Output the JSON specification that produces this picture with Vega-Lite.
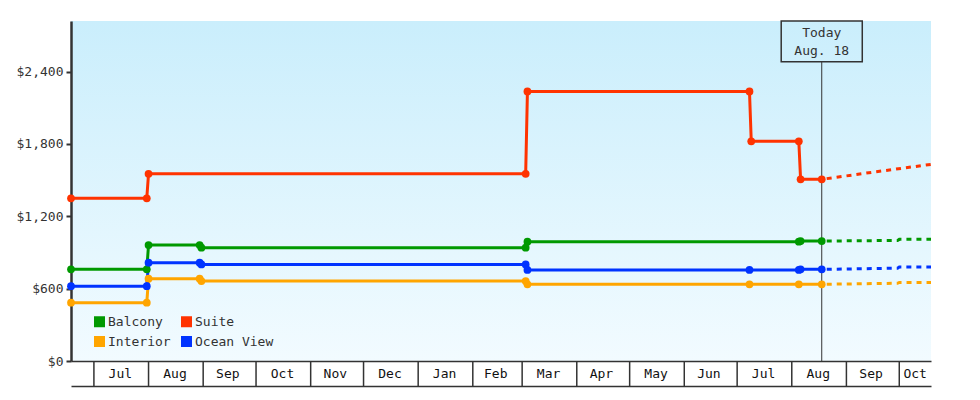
{
  "$schema": "https://vega.github.io/schema/vega-lite/v6.json",
  "description": "Cruise cabin price history by room type, with projection after today.",
  "background": "white",
  "padding": {"left": 0, "top": 20, "right": 49, "bottom": 15},
  "datasets": {
    "prices": [
      {"room": "Balcony", "date": "2022-06-18", "price": 760, "phase": "past"},
      {"room": "Balcony", "date": "2022-07-31", "price": 760, "phase": "past"},
      {"room": "Balcony", "date": "2022-08-01", "price": 962, "phase": "past"},
      {"room": "Balcony", "date": "2022-08-30", "price": 962, "phase": "past"},
      {"room": "Balcony", "date": "2022-08-31", "price": 940, "phase": "past"},
      {"room": "Balcony", "date": "2023-03-03", "price": 940, "phase": "past"},
      {"room": "Balcony", "date": "2023-03-04", "price": 990, "phase": "past"},
      {"room": "Balcony", "date": "2023-08-05", "price": 990, "phase": "past"},
      {"room": "Balcony", "date": "2023-08-06", "price": 995, "phase": "past"},
      {"room": "Balcony", "date": "2023-08-18", "price": 995, "phase": "past"},
      {"room": "Balcony", "date": "2023-08-18", "price": 995, "phase": "projected"},
      {"room": "Balcony", "date": "2023-09-30", "price": 1000, "phase": "projected"},
      {"room": "Balcony", "date": "2023-10-01", "price": 1009, "phase": "projected"},
      {"room": "Balcony", "date": "2023-10-19", "price": 1009, "phase": "projected"},

      {"room": "Suite", "date": "2022-06-18", "price": 1349, "phase": "past"},
      {"room": "Suite", "date": "2022-07-31", "price": 1349, "phase": "past"},
      {"room": "Suite", "date": "2022-08-01", "price": 1553, "phase": "past"},
      {"room": "Suite", "date": "2023-03-03", "price": 1553, "phase": "past"},
      {"room": "Suite", "date": "2023-03-04", "price": 2236, "phase": "past"},
      {"room": "Suite", "date": "2023-07-08", "price": 2236, "phase": "past"},
      {"room": "Suite", "date": "2023-07-09", "price": 1822, "phase": "past"},
      {"room": "Suite", "date": "2023-08-05", "price": 1822, "phase": "past"},
      {"room": "Suite", "date": "2023-08-06", "price": 1507, "phase": "past"},
      {"room": "Suite", "date": "2023-08-18", "price": 1507, "phase": "past"},
      {"room": "Suite", "date": "2023-08-18", "price": 1507, "phase": "projected"},
      {"room": "Suite", "date": "2023-09-18", "price": 1570, "phase": "projected"},
      {"room": "Suite", "date": "2023-10-19", "price": 1631, "phase": "projected"},

      {"room": "Interior", "date": "2022-06-18", "price": 484, "phase": "past"},
      {"room": "Interior", "date": "2022-07-31", "price": 484, "phase": "past"},
      {"room": "Interior", "date": "2022-08-01", "price": 683, "phase": "past"},
      {"room": "Interior", "date": "2022-08-30", "price": 683, "phase": "past"},
      {"room": "Interior", "date": "2022-08-31", "price": 663, "phase": "past"},
      {"room": "Interior", "date": "2023-03-03", "price": 663, "phase": "past"},
      {"room": "Interior", "date": "2023-03-04", "price": 636, "phase": "past"},
      {"room": "Interior", "date": "2023-07-08", "price": 636, "phase": "past"},
      {"room": "Interior", "date": "2023-08-05", "price": 636, "phase": "past"},
      {"room": "Interior", "date": "2023-08-18", "price": 636, "phase": "past"},
      {"room": "Interior", "date": "2023-08-18", "price": 636, "phase": "projected"},
      {"room": "Interior", "date": "2023-09-30", "price": 645, "phase": "projected"},
      {"room": "Interior", "date": "2023-10-01", "price": 652, "phase": "projected"},
      {"room": "Interior", "date": "2023-10-19", "price": 652, "phase": "projected"},

      {"room": "Ocean View", "date": "2022-06-18", "price": 621, "phase": "past"},
      {"room": "Ocean View", "date": "2022-07-31", "price": 621, "phase": "past"},
      {"room": "Ocean View", "date": "2022-08-01", "price": 815, "phase": "past"},
      {"room": "Ocean View", "date": "2022-08-30", "price": 815, "phase": "past"},
      {"room": "Ocean View", "date": "2022-08-31", "price": 801, "phase": "past"},
      {"room": "Ocean View", "date": "2023-03-03", "price": 801, "phase": "past"},
      {"room": "Ocean View", "date": "2023-03-04", "price": 755, "phase": "past"},
      {"room": "Ocean View", "date": "2023-07-08", "price": 755, "phase": "past"},
      {"room": "Ocean View", "date": "2023-08-05", "price": 755, "phase": "past"},
      {"room": "Ocean View", "date": "2023-08-06", "price": 760, "phase": "past"},
      {"room": "Ocean View", "date": "2023-08-18", "price": 760, "phase": "past"},
      {"room": "Ocean View", "date": "2023-08-18", "price": 760, "phase": "projected"},
      {"room": "Ocean View", "date": "2023-09-30", "price": 770, "phase": "projected"},
      {"room": "Ocean View", "date": "2023-10-01", "price": 780, "phase": "projected"},
      {"room": "Ocean View", "date": "2023-10-19", "price": 780, "phase": "projected"}
    ],
    "months": [
      {"label": "Jul", "start": "2022-07-01", "mid": "2022-07-16"},
      {"label": "Aug", "start": "2022-08-01", "mid": "2022-08-16"},
      {"label": "Sep", "start": "2022-09-01", "mid": "2022-09-15"},
      {"label": "Oct", "start": "2022-10-01", "mid": "2022-10-16"},
      {"label": "Nov", "start": "2022-11-01", "mid": "2022-11-15"},
      {"label": "Dec", "start": "2022-12-01", "mid": "2022-12-16"},
      {"label": "Jan", "start": "2023-01-01", "mid": "2023-01-16"},
      {"label": "Feb", "start": "2023-02-01", "mid": "2023-02-14"},
      {"label": "Mar", "start": "2023-03-01", "mid": "2023-03-16"},
      {"label": "Apr", "start": "2023-04-01", "mid": "2023-04-15"},
      {"label": "May", "start": "2023-05-01", "mid": "2023-05-16"},
      {"label": "Jun", "start": "2023-06-01", "mid": "2023-06-15"},
      {"label": "Jul", "start": "2023-07-01", "mid": "2023-07-16"},
      {"label": "Aug", "start": "2023-08-01", "mid": "2023-08-16"},
      {"label": "Sep", "start": "2023-09-01", "mid": "2023-09-15"},
      {"label": "Oct", "start": "2023-10-01", "mid": "2023-10-10"}
    ]
  },
  "spacing": 0,
  "bounds": "flush",
  "vconcat": [
    {
      "width": 860,
      "height": 340,
      "view": {
        "stroke": null,
        "fill": {
          "gradient": "linear",
          "x1": 0, "y1": 0, "x2": 0, "y2": 1,
          "stops": [
            {"offset": 0, "color": "#caeefc"},
            {"offset": 1, "color": "#f2fbff"}
          ]
        }
      },
      "layer": [
        {
          "data": {"values": [{"day": "2023-08-18", "low": 0, "high": 2482}]},
          "mark": {"type": "rule", "color": "#333", "strokeWidth": 1},
          "encoding": {
            "x": {
              "field": "day",
              "type": "temporal",
              "scale": {
                "domain": [
                  {"year": 2022, "month": 6, "date": 18, "utc": true},
                  {"year": 2023, "month": 10, "date": 19, "utc": true}
                ]
              },
              "axis": {"labels": false, "ticks": false, "grid": false, "title": null, "domainColor": "#333", "domainWidth": 1.5}
            },
            "y": {
              "field": "low",
              "type": "quantitative",
              "scale": {"domain": [0, 2820], "nice": false},
              "axis": {
                "values": [0, 600, 1200, 1800, 2400],
                "format": "$,d",
                "title": null,
                "grid": false,
                "domainColor": "#333",
                "domainWidth": 2.5,
                "tickColor": "#333",
                "tickWidth": 2,
                "tickSize": 5,
                "labelPadding": 3,
                "minExtent": 71,
                "maxExtent": 71
              }
            },
            "y2": {"field": "high"}
          }
        },
        {
          "data": {"name": "prices"},
          "transform": [{"filter": "datum.phase == 'past'"}],
          "mark": {"type": "line", "strokeWidth": 3, "clip": false},
          "encoding": {
            "x": {"field": "date", "type": "temporal"},
            "y": {"field": "price", "type": "quantitative"},
            "color": {"field": "room", "type": "nominal"}
          }
        },
        {
          "data": {"name": "prices"},
          "transform": [{"filter": "datum.phase == 'projected'"}],
          "mark": {"type": "line", "strokeWidth": 3, "strokeDash": [5, 5], "strokeDashOffset": -5},
          "encoding": {
            "x": {"field": "date", "type": "temporal"},
            "y": {"field": "price", "type": "quantitative"},
            "color": {"field": "room", "type": "nominal"}
          }
        },
        {
          "data": {"name": "prices"},
          "transform": [{"filter": "datum.phase == 'past'"}],
          "mark": {"type": "point", "filled": true, "shape": "circle", "size": 60, "opacity": 1, "clip": false},
          "encoding": {
            "x": {"field": "date", "type": "temporal"},
            "y": {"field": "price", "type": "quantitative"},
            "color": {
              "field": "room",
              "type": "nominal",
              "scale": {
                "domain": ["Balcony", "Interior", "Suite", "Ocean View"],
                "range": ["#009900", "#ffa500", "#ff3300", "#0033ff"]
              },
              "legend": {
                "title": null,
                "orient": "none",
                "legendX": 22,
                "legendY": 294,
                "columns": 2,
                "columnPadding": 9,
                "rowPadding": 6,
                "padding": 0,
                "symbolType": "square",
                "symbolSize": 121,
                "symbolStrokeWidth": 0,
                "symbolOpacity": 1,
                "labelOffset": 2,
                "labelFont": "DejaVu Sans Mono",
                "labelFontSize": 13,
                "labelColor": "#333"
              }
            }
          }
        },
        {
          "data": {"values": [{"from": "2023-07-26", "to": "2023-09-10", "low": 2482, "high": 2820}]},
          "mark": {"type": "rect", "filled": false, "stroke": "#333", "strokeWidth": 1.5},
          "encoding": {
            "x": {"field": "from", "type": "temporal"},
            "x2": {"field": "to"},
            "y": {"field": "low", "type": "quantitative"},
            "y2": {"field": "high"}
          }
        },
        {
          "data": {"values": [{"day": "2023-08-18", "label": "Today\nAug. 18", "top": 2720}]},
          "mark": {"type": "text", "font": "DejaVu Sans Mono", "fontSize": 13, "color": "#333", "lineBreak": "\n", "lineHeight": 18, "baseline": "middle", "align": "center"},
          "encoding": {
            "x": {"field": "day", "type": "temporal"},
            "y": {"field": "top", "type": "quantitative"},
            "text": {"field": "label"}
          }
        }
      ]
    },
    {
      "width": 860,
      "height": 25,
      "data": {"name": "months"},
      "view": {"stroke": null},
      "layer": [
        {
          "mark": {"type": "rule", "color": "#333", "strokeWidth": 1.5},
          "encoding": {
            "x": {
              "field": "start",
              "type": "temporal",
              "scale": {
                "domain": [
                  {"year": 2022, "month": 6, "date": 18, "utc": true},
                  {"year": 2023, "month": 10, "date": 19, "utc": true}
                ]
              },
              "axis": {"labels": false, "ticks": false, "grid": false, "title": null, "domainColor": "#333", "domainWidth": 1.5}
            }
          }
        },
        {
          "mark": {"type": "text", "font": "DejaVu Sans Mono", "fontSize": 13, "color": "#111", "baseline": "middle"},
          "encoding": {
            "x": {"field": "mid", "type": "temporal"},
            "text": {"field": "label"}
          }
        }
      ]
    }
  ],
  "config": {
    "view": {"stroke": null},
    "axis": {"labelFont": "DejaVu Sans Mono", "labelFontSize": 13, "labelColor": "#333"}
  }
}
